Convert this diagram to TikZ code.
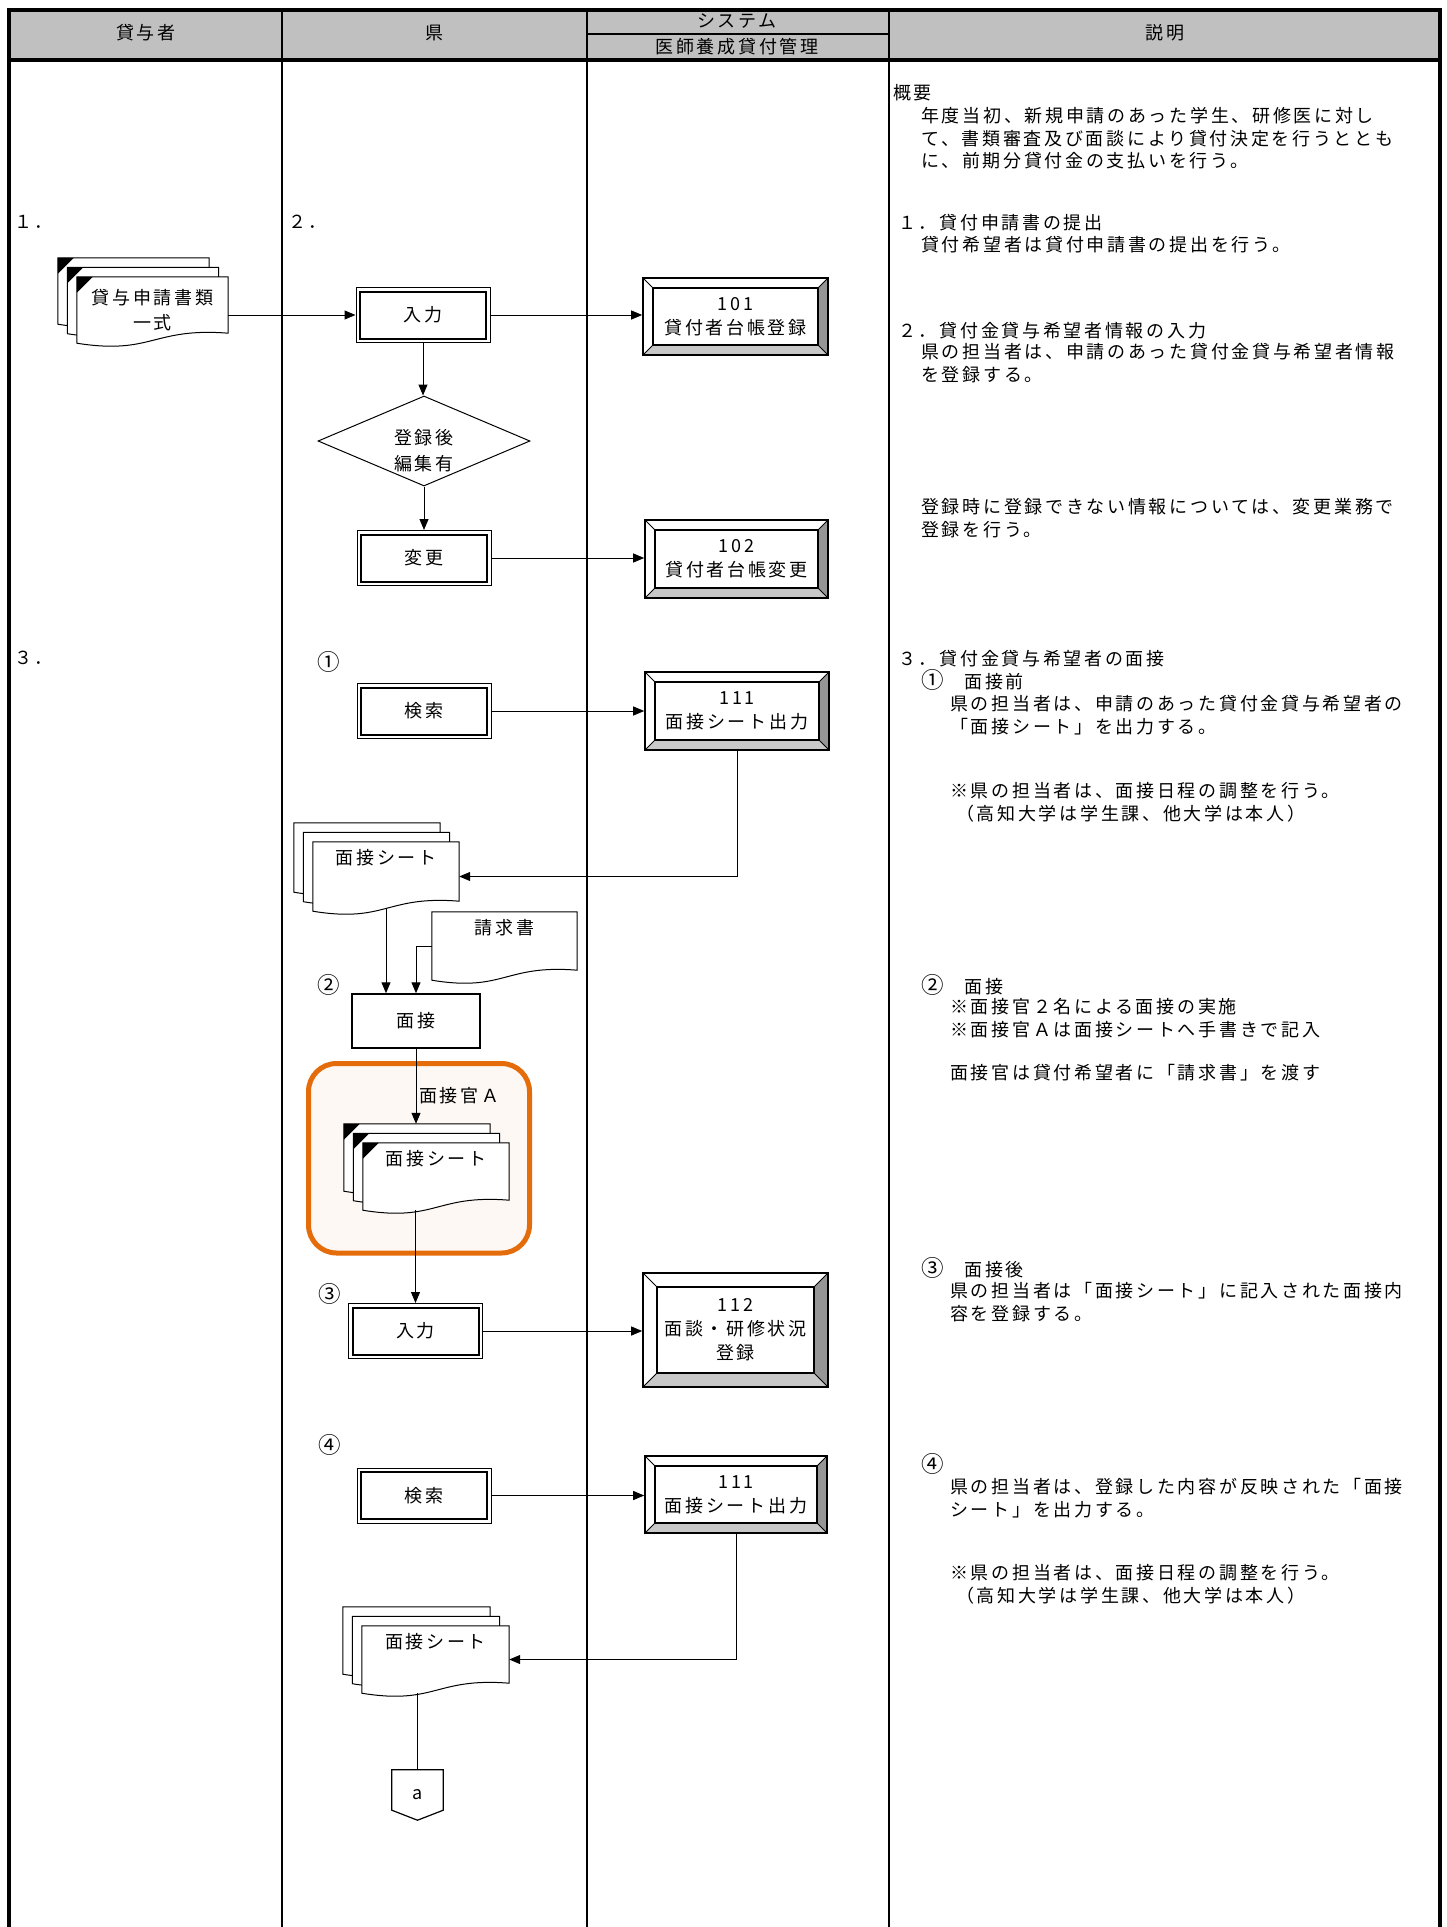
\documentclass[tikz,border=0pt]{standalone}
\usepackage{fontspec}
\setmainfont{Noto Sans CJK JP}[LetterSpace=15]
\usetikzlibrary{arrows.meta,shapes.geometric}
\pgfdeclarelayer{back}
\pgfdeclarelayer{sheets}
\pgfsetlayers{back,sheets,main}
\definecolor{hdrgray}{HTML}{C0C0C0}
\definecolor{bevlight}{HTML}{C8C8C8}
\definecolor{bevdark}{HTML}{969696}
\definecolor{memoorange}{HTML}{E46C0A}
\definecolor{memofill}{HTML}{FDF8F4}

\newcommand{\circnum}[1]{{\fontsize{22.5pt}{22.5pt}\selectfont #1}}
% one sheet of a document symbol, shifted up-left by #2
\newcommand{\docsheet}[3]{%
  \filldraw[fill=white,line width=1pt]
    ([shift={(-#2,#2)}]#1.north west) -- ([shift={(-#2,#2)}]#1.north east)
    -- ([shift={(-#2,#2+10pt)}]#1.south east)
    .. controls ([shift={(-#2,#2+16pt)}]#1.south) and ([shift={(-#2,#2-12pt)}]#1.south)
    .. ([shift={(-#2,#2)}]#1.south west) -- cycle;
  \ifnum#3=1
    \fill ([shift={(-#2,#2)}]#1.north west) -- ++(16pt,0pt) -- ++(-16pt,-16pt) -- cycle;
  \fi}
\newcommand{\docstack}[2]{%
  \docsheet{#1}{19pt}{#2}\docsheet{#1}{9.5pt}{#2}\docsheet{#1}{0pt}{#2}}

\tikzset{
  frame/.style={line width=3.5pt},
  lane/.style={line width=2.4pt},
  arr/.style={line width=1pt,-{Triangle[length=11pt,width=9pt]}},
  link/.style={line width=1pt},
  opbox/.style={draw,line width=1pt,minimum width=134pt,minimum height=55pt,inner sep=0pt,
    path picture={\draw[line width=2pt] ([shift={(4pt,4pt)}]path picture bounding box.south west)
      rectangle ([shift={(-4pt,-4pt)}]path picture bounding box.north east);}},
  plainbox/.style={draw,line width=1.5pt,minimum width=128pt,minimum height=54pt,inner sep=0pt},
  bevel/.style={draw,line width=1.6pt,inner sep=0pt,align=center,
    font=\fontsize{18pt}{24pt}\selectfont,
    path picture={
      \path (path picture bounding box.south west) coordinate (bvA)
            (path picture bounding box.north east) coordinate (bvB)
            (path picture bounding box.south east) coordinate (bvC)
            (path picture bounding box.north west) coordinate (bvD);
      \fill[bevlight] (bvA) -- (bvC) -- ([shift={(-#1,#1)}]bvC) -- ([shift={(#1,#1)}]bvA) -- cycle;
      \fill[bevdark] (bvC) -- (bvB) -- ([shift={(-#1,-#1)}]bvB) -- ([shift={(-#1,#1)}]bvC) -- cycle;
      \draw[line width=1.2pt] ([shift={(#1,#1)}]bvA) rectangle ([shift={(-#1,-#1)}]bvB);
      \draw[line width=1pt] (bvA) -- ([shift={(#1,#1)}]bvA) (bvB) -- ([shift={(-#1,-#1)}]bvB)
        (bvC) -- ([shift={(-#1,#1)}]bvC) (bvD) -- ([shift={(#1,-#1)}]bvD);}},
  bevel/.default=10pt,
  decision/.style={diamond,draw,line width=1pt,aspect=2.4,minimum width=212pt,
    minimum height=90pt,inner sep=0pt},
  sheet/.style={inner sep=0pt,align=center,font=\fontsize{18pt}{25pt}\selectfont},
  topsheet/.style={sheet,text height=22pt,text depth=#1},
  note/.style={anchor=north west,inner sep=0pt,align=left},
  num/.style={anchor=west,inner sep=0pt},
}

\begin{document}
\begin{tikzpicture}[x=1pt,y=-1pt,font=\fontsize{18pt}{22.7pt}\selectfont]
  \useasboundingbox (0,0) rectangle (1446,1927);
  \begin{pgfonlayer}{back}
    \fill[hdrgray] (9,10) rectangle (1440,60);
    \draw[memoorange,fill=memofill,line width=5pt,rounded corners=28pt]
      (308.5,1063.5) rectangle (529.5,1253);
  \end{pgfonlayer}

  % lanes
  \draw[frame] (9,1927) -- (9,10) -- (1440,10) -- (1440,1927);
  \draw[frame] (9,60) -- (1440,60);
  \draw[lane] (282,10) -- (282,1927);
  \draw[lane] (587,10) -- (587,1927);
  \draw[lane] (889,10) -- (889,1927);
  \draw[line width=2pt] (587,34) -- (889,34);

  \node (hA) at (146,33) {貸与者};
  \node (hB) at (434,33) {県};
  \node (hC) at (737,21) {システム};
  \node (hD) at (737,47) {医師養成貸付管理};
  \node (hE) at (1165,33) {説明};

  \node[num] (st1) at (14,222) {１．};
  \node[num] (st2) at (288,222) {２．};
  \node[num] (st3) at (14,658) {３．};
  \node (c1) at (329,662) {\circnum{①}};
  \node (c2) at (329,985) {\circnum{②}};
  \node (c3) at (330,1294) {\circnum{③}};
  \node (c4) at (330,1445) {\circnum{④}};

  % flow
  \node[sheet,minimum width=151pt,minimum height=66pt] (form) at (152.5,310) {貸与申請書類\\一式};
  \node[opbox] (in1) at (423,315) {入力};
  \node[bevel,minimum width=185pt,minimum height=77pt] (s101) at (735.5,316.5) {101\\貸付者台帳登録};
  \node[decision,label={[align=center,yshift=-10pt,font=\fontsize{18pt}{26pt}\selectfont]center:登録後\\編集有}]
    (dec) at (424,441) {};
  \node[opbox] (chg) at (424,558) {変更};
  \node[bevel,minimum width=183pt,minimum height=78pt] (s102) at (736.5,559) {102\\貸付者台帳変更};
  \node[opbox] (srch1) at (424,711) {検索};
  \node[bevel,minimum width=184pt,minimum height=78pt] (s111a) at (737,711) {111\\面接シート出力};
  \node[topsheet=47pt,minimum width=146pt] (sheet1) at (386,876.5) {面接シート};
  \node[topsheet=46pt,minimum width=145pt] (bill) at (504.5,946) {請求書};
  \node[plainbox] (men) at (416,1021) {面接};
  \node[topsheet=45pt,minimum width=146pt] (sheet2) at (436,1176.5) {面接シート};
  \node[num] (offA) at (419,1096) {面接官Ａ};
  \node[opbox] (in2) at (415.5,1331) {入力};
  \node[bevel=14pt,minimum width=185pt,minimum height=114pt] (s112) at (735.5,1330) {112\\面談・研修状況\\登録};
  \node[opbox] (srch2) at (424,1495.5) {検索};
  \node[bevel,minimum width=182pt,minimum height=77pt] (s111b) at (736,1494.5) {111\\面接シート出力};
  \node[topsheet=45pt,minimum width=147pt] (sheet3) at (435.5,1659.5) {面接シート};
  \node[minimum width=51pt,minimum height=50pt,inner sep=0pt] (conA) at (417.5,1795) {a};
  \draw[line width=1.2pt] (conA.north west) -- (conA.north east) -- ([yshift=10pt]conA.south east)
    -- (conA.south) -- ([yshift=10pt]conA.south west) -- cycle;

  \begin{pgfonlayer}{sheets}
    \docstack{form}{1}
    \docstack{sheet1}{0}
    \docsheet{bill}{0pt}{0}
    \docstack{sheet2}{1}
    \docstack{sheet3}{0}
  \end{pgfonlayer}
  \coordinate (s2top) at ([yshift=19pt]sheet2.north);

  \draw[arr] (in1.west -| form.east) -- (in1.west);
  \draw[arr] (in1.east) -- (in1.east -| s101.west);
  \draw[arr] (in1.south) -- (in1.south |- dec.north);
  \draw[arr] (dec.south) -- (dec.south |- chg.north);
  \draw[arr] (chg.east) -- (chg.east -| s102.west);
  \draw[arr] (srch1.east) -- (srch1.east -| s111a.west);
  \draw[arr] (s111a.south) |- (sheet1.east);
  \draw[arr] ([yshift=3pt]sheet1.south) -- (sheet1.south |- men.north);
  \draw[arr] (bill.west) -| (men.north);
  \draw[arr] (men.south) -- (men.south |- s2top);
  \draw[arr] (sheet2.south -| in2.north) -- (in2.north);
  \draw[arr] (in2.east) -- (in2.east -| s112.west);
  \draw[arr] (srch2.east) -- (srch2.east -| s111b.west);
  \draw[arr] (s111b.south) |- (sheet3.east);
  \draw[link] (sheet3.south -| conA.north) -- (conA.north);

  % notes
  \node[note] (ovT) at (893,84) {概要};
  \node[note] (ovB) at (921,107) {年度当初、新規申請のあった学生、研修医に対し\\て、書類審査及び面談により貸付決定を行うととも\\に、前期分貸付金の支払いを行う。};
  \node[note] (n1T) at (898,214) {１．貸付申請書の提出};
  \node[note] (n1B) at (921,236) {貸付希望者は貸付申請書の提出を行う。};
  \node[note] (n2T) at (898,322) {２．貸付金貸与希望者情報の入力};
  \node[note] (n2B) at (921,343) {県の担当者は、申請のあった貸付金貸与希望者情報\\を登録する。};
  \node[note] (n2C) at (921,498) {登録時に登録できない情報については、変更業務で\\登録を行う。};
  \node[note] (n3T) at (898,650) {３．貸付金貸与希望者の面接};
  \node[note] (n31T) at (921,669) {\circnum{①}　面接前};
  \node[note] (n31B) at (950,695) {県の担当者は、申請のあった貸付金貸与希望者の\\「面接シート」を出力する。};
  \node[note] (n31C) at (950,782) {※県の担当者は、面接日程の調整を行う。\\\hspace*{6pt}（高知大学は学生課、他大学は本人）};
  \node[note] (n32T) at (921,974) {\circnum{②}　面接};
  \node[note] (n32B) at (950,998) {※面接官２名による面接の実施\\※面接官Ａは面接シートへ手書きで記入\\[21pt]面接官は貸付希望者に「請求書」を渡す};
  \node[note] (n33T) at (921,1257) {\circnum{③}　面接後};
  \node[note] (n33B) at (950,1282) {県の担当者は「面接シート」に記入された面接内\\容を登録する。};
  \node[note] (n34T) at (921,1453) {\circnum{④}};
  \node[note] (n34B) at (950,1478) {県の担当者は、登録した内容が反映された「面接\\シート」を出力する。};
  \node[note] (n34C) at (950,1564) {※県の担当者は、面接日程の調整を行う。\\\hspace*{6pt}（高知大学は学生課、他大学は本人）};
\end{tikzpicture}
\end{document}
